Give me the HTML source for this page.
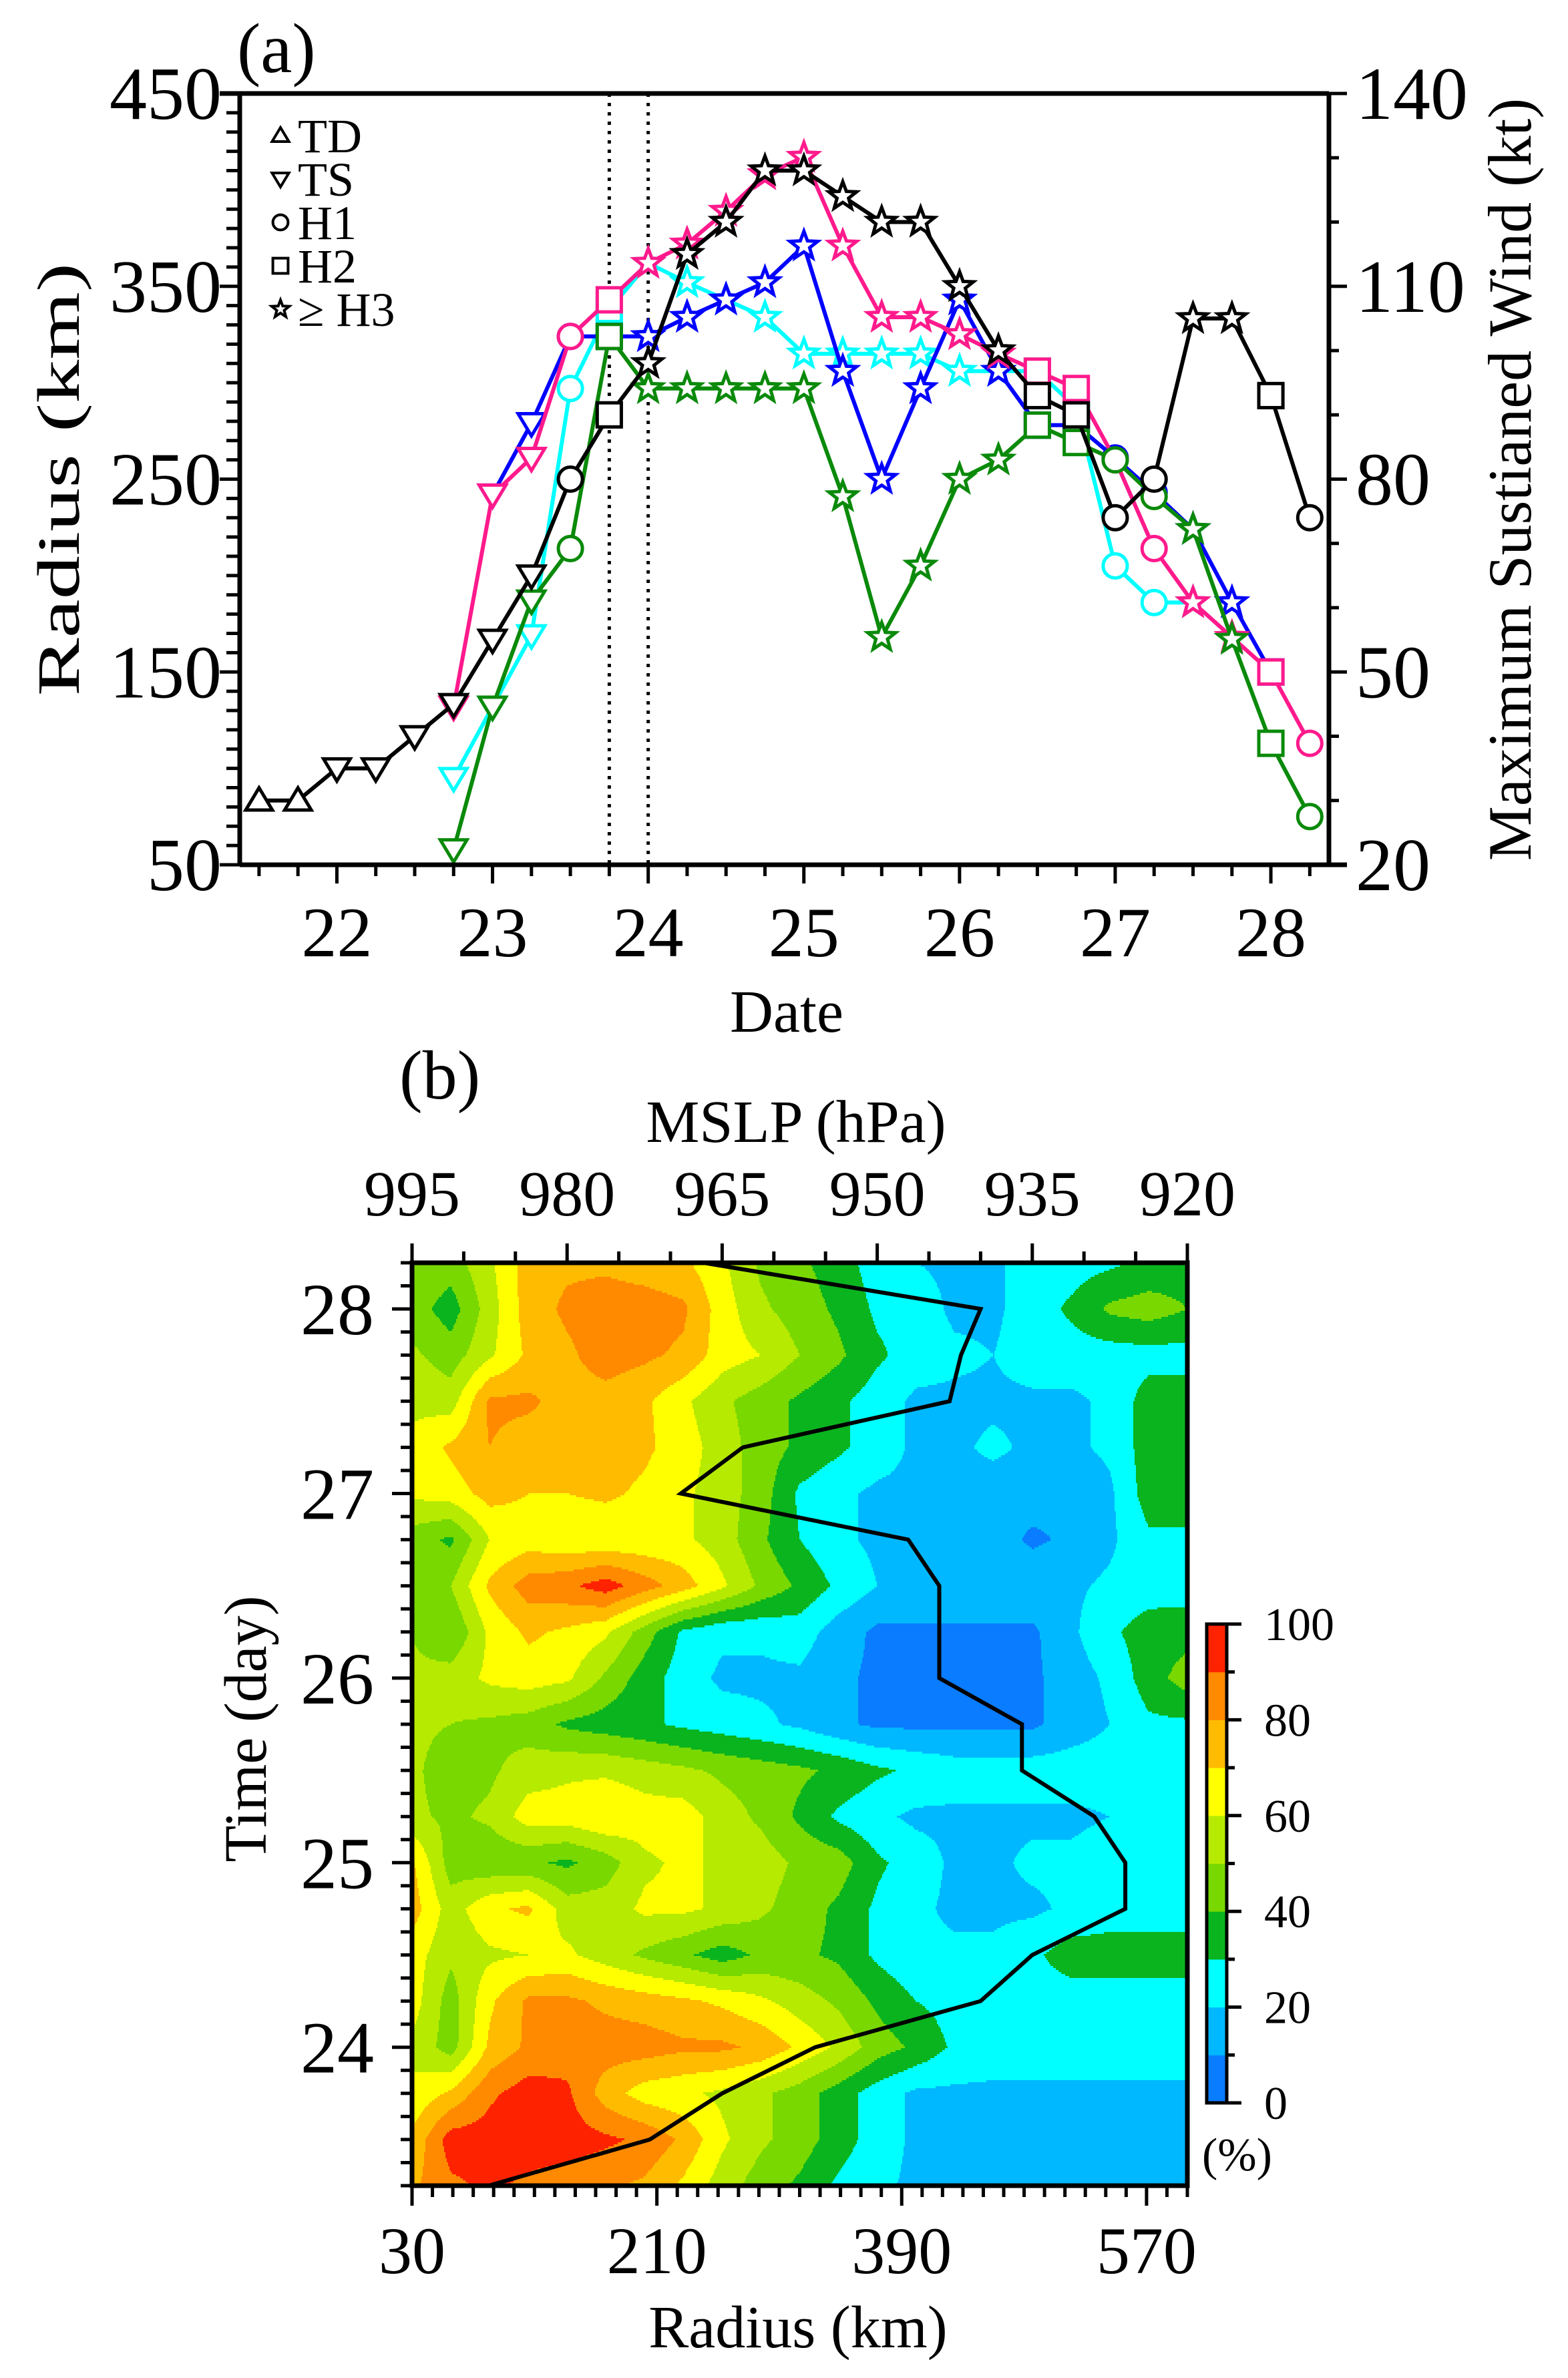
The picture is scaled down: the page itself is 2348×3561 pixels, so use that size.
<!DOCTYPE html>
<html><head><meta charset="utf-8"><style>
html,body{margin:0;padding:0;background:#fff;}
svg{display:block;font-family:"Liberation Serif","DejaVu Serif",serif;}
</style></head><body>
<svg id="fig" xmlns="http://www.w3.org/2000/svg" width="2348" height="3561" viewBox="0 0 2348 3561">
<rect x="0" y="0" width="2348" height="3561" fill="#fff"/>
<g id="pa"></g>
<g id="pb"></g>
</svg>
<script>
// ---------- Panel (a) data ----------
const blackTimes=[21.5,21.75,22,22.25,22.5,22.75,23,23.25,23.5,23.75,24,24.25,24.5,24.75,25,25.25,25.5,25.75,26,26.25,26.5,26.75,27,27.25,27.5,27.75,28,28.25];
const blackWindKt=[30,30,35,35,40,45,55,65,80,90,98,115,120,128,128,124,120,120,110,100,93,90,74,80,105,105,93,74];
const blackMarks=['td','td','ts','ts','ts','ts','ts','ts','h1','h2','h3','h3','h3','h3','h3','h3','h3','h3','h3','h3','h2','h2','h1','h1','h3','h3','h2','h1'];
const magentaTimes=[22.75,23,23.25,23.5,23.75,24,24.25,24.5,24.75,25,25.25,25.5,25.75,26,26.25,26.5,26.75,27,27.25,27.5,27.75,28,28.25];
const magentaRadius=[132,242,261,324,343,362,372,389,408,417,371,334,334,325,315,306,297,260,214,186,168,150,113];
const magentaMarks=['ts','ts','ts','h1','h2','h3','h3','h3','h3','h3','h3','h3','h3','h3','h3','h2','h2','h1','h1','h3','h3','h2','h1'];
const blueTimes=[23,23.25,23.5,23.75,24,24.25,24.5,24.75,25,25.25,25.5,25.75,26,26.25,26.5,26.75,27,27.25,27.5,27.75,28];
const blueRadius=[242,279,324,324,324,334,343,352,371,306,250,297,343,306,278,278,261,243,224,186,150];
const blueMarks=['ts','ts','h1','h2','h3','h3','h3','h3','h3','h3','h3','h3','h3','h3','h2','h2','h1','h1','h3','h3','h2'];
const cyanTimes=[22.75,23,23.25,23.5,23.75,24,24.25,24.5,24.75,25,25.25,25.5,25.75,26,26.25,26.5,26.75,27,27.25,27.5];
const cyanRadius=[95,132,169,297,338,362,352,343,334,315,315,315,315,306,306,306,287,205,186,186];
const cyanMarks=['ts','ts','ts','h1','h2','h3','h3','h3','h3','h3','h3','h3','h3','h3','h3','h2','h2','h1','h1','h3'];
const greenTimes=[22.75,23,23.25,23.5,23.75,24,24.25,24.5,24.75,25,25.25,25.5,25.75,26,26.25,26.5,26.75,27,27.25,27.5,27.75,28,28.25];
const greenRadius=[58,132,187,214,324,297,297,297,297,297,241,168,205,250,260,278,269,260,241,224,167,113,75];
const greenMarks=['ts','ts','ts','h1','h2','h3','h3','h3','h3','h3','h3','h3','h3','h3','h3','h2','h2','h1','h1','h3','h3','h2','h1'];
const dateTicks=[22,23,24,25,26,27,28];
const radiusTicks=[50,150,250,350,450];
const windTicks=[20,50,80,110,140];
const dottedTimes=[23.75,24];
const legendKeys=['td','ts','h1','h2','h3'];
const legendLabels=['TD','TS','H1','H2','\u2265 H3'];

// ---------- Panel (b) data ----------
const gridTimes=[28.25,28,27.75,27.5,27.25,27,26.75,26.5,26.25,26,25.75,25.5,25.25,25,24.75,24.5,24.25,24,23.75,23.5,23.25];
const gridRadii=[30,58.5,87,115.5,144,172.5,201,229.5,258,286.5,315,343.5,372,400.5,429,457.5,486,514.5,543,571.5,600];
const row00=[50,45,58,75,78,78,75,72,62,48,42,35,25,20,18,18,25,25,28,32,35];
const row01=[45,35,55,75,82,85,85,82,65,52,45,38,28,25,18,18,25,32,42,45,40];
const row02=[52,45,58,72,78,85,82,78,65,60,50,42,32,25,22,20,25,25,25,26,26];
const row03=[58,55,82,82,76,76,72,62,52,45,38,32,25,18,18,18,18,18,22,35,35];
const row04=[62,72,80,75,75,75,72,65,55,45,38,32,25,18,18,22,18,18,22,35,35];
const row05=[62,65,74,70,70,72,68,62,55,45,28,22,18,18,18,15,15,12,18,35,35];
const row06=[45,38,60,65,62,62,62,62,55,42,30,22,18,18,18,15,8,12,18,28,28];
const row07=[45,50,72,85,88,95,85,75,62,48,38,28,20,18,18,18,18,18,22,25,25];
const row08=[50,40,62,72,68,62,45,28,22,22,25,15,8,8,8,8,8,18,28,35,36];
const row09=[52,55,62,65,62,48,35,25,18,18,18,12,8,8,8,8,8,15,22,35,45];
const row10=[52,50,48,45,38,35,32,28,25,22,18,12,8,8,8,8,8,15,20,28,28];
const row11=[52,45,48,55,58,58,55,52,48,45,42,38,32,28,25,25,25,25,25,25,25];
const row12=[52,48,52,65,65,70,65,65,55,48,38,28,22,18,18,18,18,18,20,25,25];
const row13=[72,45,42,42,38,45,58,62,58,55,48,45,32,25,18,18,22,22,25,25,25];
const row14=[75,55,68,72,55,55,62,62,58,52,45,38,28,22,18,18,18,22,25,25,25];
const row15=[65,52,58,60,62,55,48,42,35,42,42,38,28,22,22,22,28,35,35,35,35];
const row16=[65,45,68,82,82,78,75,72,68,62,55,48,38,30,26,25,25,25,25,25,25];
const row17=[58,45,72,82,85,85,85,82,82,78,68,58,45,38,28,25,25,25,25,25,25];
const row18=[62,72,88,95,92,75,65,62,58,52,45,35,25,18,18,18,18,18,18,18,18];
const row19=[72,95,95,95,95,92,88,78,62,52,45,35,25,18,18,18,18,18,18,18,18];
const row20=[78,88,92,88,85,82,78,68,55,45,38,28,22,18,18,18,18,18,18,18,18];
const fieldRows=[row00,row01,row02,row03,row04,row05,row06,row07,row08,row09,row10,row11,row12,row13,row14,row15,row16,row17,row18,row19,row20];
const mslpTimes=[28.25,28,27.75,27.5,27.25,27,26.75,26.5,26.25,26,25.75,25.5,25.25,25,24.75,24.5,24.25,24,23.75,23.5,23.25];
const mslpValues=[966.8,940,941.9,943,963,969,947,944,944,944,936,936,929,926,926,935,940,956,965,972,987.6];
const timeTicks=[24,25,26,27,28];
const radiusTicksB=[30,210,390,570];
const mslpTicks=[995,980,965,950,935,920];
const cbLevels=[0,10,20,30,40,50,60,70,80,90];
const cbLabels=[0,20,40,60,80,100];
const bandColors=['#0a7cff','#00b8ff','#00ffff','#0ab41e','#78d800','#b6ea00','#ffff00','#ffbb00','#ff8a00','#ff2200'];

// ---------- helpers ----------
const NS='http://www.w3.org/2000/svg';
function mk(parent,tag,attrs,text){const e=document.createElementNS(NS,tag);for(const k in attrs)e.setAttribute(k,attrs[k]);if(text!==undefined)e.textContent=text;parent.appendChild(e);return e;}

// ---------- Panel (a) ----------
const pa=document.getElementById('pa');
const AL=359,AR=1990,AT=140,AB=1295,T0=21.376,T1=28.373;
const xA=t=>AL+(t-T0)*(AR-AL)/(T1-T0);
const yA=km=>AB-(km-50)*(AB-AT)/400;
const yK=kt=>AB-(kt-20)*(AB-AT)/120;

function marker(g,type,x,y,color,s){
  let e;
  if(type==='td'){e=mk(g,'polygon',{points:`${x},${y-s} ${x+s*1.05},${y+s*0.75} ${x-s*1.05},${y+s*0.75}`});}
  else if(type==='ts'){e=mk(g,'polygon',{points:`${x},${y+s} ${x+s*1.05},${y-s*0.75} ${x-s*1.05},${y-s*0.75}`});}
  else if(type==='h1'){e=mk(g,'circle',{cx:x,cy:y,r:s*0.95});}
  else if(type==='h2'){e=mk(g,'rect',{x:x-s*0.95,y:y-s*0.95,width:s*1.9,height:s*1.9});}
  else {let p=[];for(let i=0;i<10;i++){const a=-Math.PI/2+i*Math.PI/5;const r=i%2?s*0.48:s*1.15;p.push((x+r*Math.cos(a)).toFixed(1)+','+(y+r*Math.sin(a)).toFixed(1));}e=mk(g,'polygon',{points:p.join(' ')});}
  e.setAttribute('fill','#fff');e.setAttribute('stroke',color);e.setAttribute('stroke-width',5);
  return e;
}

dottedTimes.forEach(t=>{
  const l=mk(pa,'line',{x1:xA(t),x2:xA(t),y1:AT,y2:AB,stroke:'#000','stroke-width':5,'stroke-dasharray':'5 9'});
  
  
});

function series(name,times,vals,marks,color,yf){
  const g=mk(pa,'g',{});
  
  
  const pts=times.map((t,i)=>xA(t).toFixed(1)+','+yf(vals[i]).toFixed(1)).join(' ');
  mk(g,'polyline',{points:pts,fill:'none',stroke:color,'stroke-width':6,'stroke-linejoin':'round'});
  times.forEach((t,i)=>{
    const m=marker(g,marks[i],xA(t),yf(vals[i]),color,19);
    
    
  });
}
series('cyan-series',cyanTimes,cyanRadius,cyanMarks,'#00ffff',yA);
series('blue-series',blueTimes,blueRadius,blueMarks,'#0000ff',yA);
series('magenta-series',magentaTimes,magentaRadius,magentaMarks,'#ff1a8c',yA);
series('green-series',greenTimes,greenRadius,greenMarks,'#0a8a0a',yA);
series('max-wind-series',blackTimes,blackWindKt,blackMarks,'#000000',yK);

const fa=mk(pa,'g',{stroke:'#000','stroke-width':7,fill:'none'});


mk(fa,'line',{x1:AL-30,x2:AR,y1:AT,y2:AT});
mk(fa,'line',{x1:AL,x2:AR+27,y1:AB,y2:AB});
mk(fa,'line',{x1:AL,x2:AL,y1:AT,y2:AB});
mk(fa,'line',{x1:AR,x2:AR,y1:AT,y2:AB});
const ta=mk(pa,'g',{stroke:'#000','stroke-width':5});
for(let km=50;km<=450;km+=10){const y=yA(km);const maj=(km-50)%100===0;mk(ta,'line',{x1:AL-(maj?30:20),x2:AL,y1:y,y2:y});}
for(let kt=20;kt<=140;kt+=10){const y=yK(kt);const maj=(kt-20)%30===0;mk(ta,'line',{x1:AR,x2:AR+(maj?27:15),y1:y,y2:y});}
for(let t=21.5;t<=28.26;t+=0.25){const x=xA(t);const maj=Math.abs(t-Math.round(t))<0.01;mk(ta,'line',{x1:x,x2:x,y1:AB,y2:AB+(maj?28:17)});}

radiusTicks.forEach(v=>{const e=mk(pa,'text',{x:332,y:yA(v)+38,'font-size':112,'text-anchor':'end'},v);});
windTicks.forEach(v=>{const e=mk(pa,'text',{x:2030,y:yK(v)+38,'font-size':112},v);});
dateTicks.forEach(v=>{const e=mk(pa,'text',{x:xA(v),y:1432,'font-size':106,'text-anchor':'middle'},v);});
let e;
e=mk(pa,'text',{x:1178,y:1545,'font-size':90,'text-anchor':'middle'},'Date');
e=mk(pa,'text',{x:0,y:0,'font-size':90,'text-anchor':'middle',transform:'translate(118,718) rotate(-90) scale(1.45,1)'},'Radius (km)');
e=mk(pa,'text',{x:0,y:0,'font-size':92,'text-anchor':'middle',transform:'translate(2292,718) rotate(-90)'},'Maximum Sustianed Wind (kt)');
e=mk(pa,'text',{x:355,y:108,'font-size':106},'(a)');

legendKeys.forEach((k,i)=>{
  const g=mk(pa,'g',{});
  
  
  const y=203+i*65;
  marker(g,k,420,y,'#000',12).setAttribute('stroke-width',4);
  mk(g,'text',{x:446,y:y+25,'font-size':72},legendLabels[i]);
});

// ---------- Panel (b) ----------
const pb=document.getElementById('pb');
const BL=617,BR=1778,BT=1891,BB=3273;
const xB=r=>BL+(r-30)*(BR-BL)/570;
const yB=t=>BB-(t-23.25)*(BB-BT)/5;
const xP=p=>BL+(995-p)*(BR-BL)/75;

function fieldAt(t,r){
  let fi=(gridTimes[0]-t)/(gridTimes[0]-gridTimes[gridTimes.length-1])*(gridTimes.length-1);
  let fj=(r-gridRadii[0])/(gridRadii[gridRadii.length-1]-gridRadii[0])*(gridRadii.length-1);
  fi=Math.max(0,Math.min(gridTimes.length-1.0001,fi));fj=Math.max(0,Math.min(gridRadii.length-1.0001,fj));
  const i=Math.floor(fi),j=Math.floor(fj),a=fi-i,b=fj-j;
  return fieldRows[i][j]*(1-a)*(1-b)+fieldRows[i+1][j]*a*(1-b)+fieldRows[i][j+1]*(1-a)*b+fieldRows[i+1][j+1]*a*b;
}
function band(v){let k=Math.floor(v/10);return Math.max(0,Math.min(9,k));}
const hm=mk(pb,'g',{'shape-rendering':'crispEdges'});


const DY=3,DX=2;
function addCell(x0,x1,y,k){
  const c=mk(hm,'rect',{x:x0,y:y,width:x1-x0+0.6,height:DY+0.6,fill:bandColors[k]});
  
  
}
for(let py=BT;py<BB;py+=DY){
  const t=23.25+(BB-(py+DY/2))*5/(BB-BT);
  let start=BL,cur=-1;
  for(let px=BL;px<BR;px+=DX){
    const r=30+(px+DX/2-BL)*570/(BR-BL);
    const k=band(fieldAt(t,r));
    if(k!==cur){
      if(cur>=0)addCell(start,px,py,cur);
      start=px;cur=k;
    }
  }
  if(cur>=0)addCell(start,BR,py,cur);
}
const ml=mk(pb,'polyline',{points:mslpTimes.map((t,i)=>xP(mslpValues[i]).toFixed(1)+','+yB(t).toFixed(1)).join(' '),fill:'none',stroke:'#000','stroke-width':6,'stroke-linejoin':'miter'});



const fb=mk(pb,'rect',{x:BL,y:BT,width:BR-BL,height:BB-BT,fill:'none',stroke:'#000','stroke-width':7});


const tb=mk(pb,'g',{stroke:'#000','stroke-width':5});
for(let t=23.25;t<=28.26;t+=0.125){const y=yB(t);const maj=Math.abs(t-Math.round(t))<0.01;mk(tb,'line',{x1:BL-(maj?30:17),x2:BL,y1:y,y2:y});}
for(let r=30;r<=600.1;r+=15){const x=xB(r);const maj=(r-30)%180===0;mk(tb,'line',{x1:x,x2:x,y1:BB,y2:BB+(maj?30:17)});}
for(let p=995;p>=919.9;p-=5){const x=xP(p);const maj=(995-p)%15===0;mk(tb,'line',{x1:x,x2:x,y1:BT-(maj?29:17),y2:BT});}

timeTicks.forEach(v=>{const e=mk(pb,'text',{x:560,y:yB(v)+38,'font-size':110,'text-anchor':'end'},v);});
radiusTicksB.forEach(v=>{const e=mk(pb,'text',{x:xB(v),y:3404,'font-size':100,'text-anchor':'middle'},v);});
mslpTicks.forEach(v=>{const e=mk(pb,'text',{x:xP(v),y:1820,'font-size':96,'text-anchor':'middle'},v);});
e=mk(pb,'text',{x:1195,y:3515,'font-size':90,'text-anchor':'middle'},'Radius (km)');
e=mk(pb,'text',{x:1192,y:1710,'font-size':90,'text-anchor':'middle'},'MSLP (hPa)');
e=mk(pb,'text',{x:0,y:0,'font-size':90,'text-anchor':'middle',transform:'translate(398,2589) rotate(-90)'},'Time (day)');
e=mk(pb,'text',{x:598,y:1645,'font-size':104},'(b)');

const CL=1807,CR=1837,CT=2432,CB=3149;
const yC=v=>CB-v*(CB-CT)/100;
const cb=mk(pb,'g',{});


cbLevels.forEach((v,i)=>{const r=mk(cb,'rect',{x:CL,y:yC(v+10),width:CR-CL,height:yC(v)-yC(v+10)+0.5,fill:bandColors[i]});
  
  });
mk(cb,'rect',{x:CL,y:CT,width:CR-CL,height:CB-CT,fill:'none',stroke:'#000','stroke-width':5});
cbLevels.forEach(v=>{const y=yC(v);mk(cb,'line',{x1:CR,x2:CR+(v%20===0?22:12),y1:y,y2:y,stroke:'#000','stroke-width':5});});
mk(cb,'line',{x1:CR,x2:CR+22,y1:CT,y2:CT,stroke:'#000','stroke-width':5});
cbLabels.forEach(v=>{const e=mk(cb,'text',{x:1893,y:yC(v)+24,'font-size':70},v);});
e=mk(pb,'text',{x:1800,y:3250,'font-size':70},'(%)');
</script>
</body></html>
